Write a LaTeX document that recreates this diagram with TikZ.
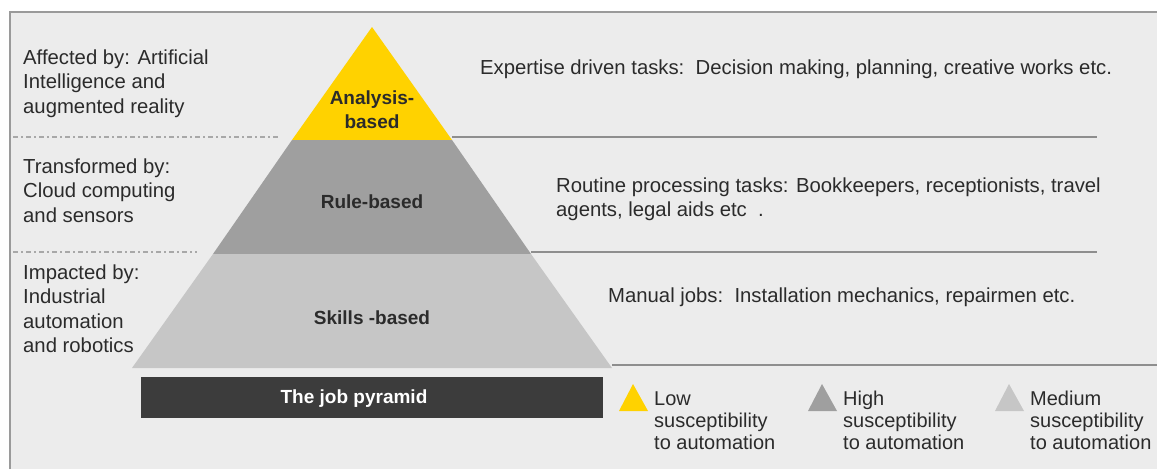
\documentclass[tikz,border=0pt]{standalone}
\usepackage{fontspec}
\setmainfont{Liberation Sans}
\definecolor{bgc}{HTML}{ECECEC}
\definecolor{framec}{HTML}{9A9A9A}
\definecolor{yel}{HTML}{FFD200}
\definecolor{dgr}{HTML}{9F9F9F}
\definecolor{lgr}{HTML}{C6C6C6}
\definecolor{boxc}{HTML}{3C3C3C}
\definecolor{textc}{HTML}{2B2B2B}
\definecolor{linec}{HTML}{8E8E8E}
\definecolor{dashc}{HTML}{A8A8A8}
\begin{document}
\begin{tikzpicture}[x=1pt,y=-1pt,
  txt/.style={anchor=base west, align=left, inner sep=0pt, text=textc,
    font=\fontsize{20.3}{24.5}\selectfont},
  lgd/.style={anchor=base west, align=left, inner sep=0pt, text=textc,
    font=\fontsize{20}{22}\selectfont},
  lvl/.style={anchor=base, align=center, inner sep=0pt, text=textc,
    font=\fontsize{19}{24}\selectfont\bfseries},
  sepline/.style={draw=linec, line width=1.3pt},
  dashline/.style={draw=dashc, line width=1.3pt, dash pattern=on 5pt off 3pt on 2pt off 3pt}]
\fill[white] (0,0) rectangle (1157,469);
\useasboundingbox (0,0) rectangle (1157,469);
\fill[bgc] (10,12) rectangle (1157,469);
\draw[framec, line width=2pt] (10,469) -- (10,12) -- (1157,12);
% pyramid
\fill[yel] (372,27) -- (292,140) -- (452,140) -- cycle;
\fill[dgr] (292,140) -- (213,254) -- (531,254) -- (452,140) -- cycle;
\fill[lgr] (213,254) -- (132,368) -- (612,368) -- (531,254) -- cycle;
% separator lines
\draw[sepline] (452,137) -- (1097,137);
\draw[sepline] (531,252) -- (1097,252);
\draw[sepline] (612,365) -- (1157,365);
\draw[dashline] (13,137) -- (278,137);
\draw[dashline] (13,252) -- (197,252);
% left texts (anchor = baseline of last line)
\node[txt] (aff) at (23,113) {Affected by: Artificial\\Intelligence and\\augmented reality};
\node[txt] (tra) at (23,222) {Transformed by:\\Cloud computing\\and sensors};
\node[txt] (imp) at (23,352.5) {Impacted by:\\Industrial\\automation\\and robotics};
% pyramid labels
\node[lvl] (ana) at (372,128) {Analysis-\\based};
\node[lvl] (rul) at (372,208) {Rule-based};
\node[lvl] (ski) at (372,324) {Skills -based};
% right texts
\node[txt] (exp) at (480,74) {Expertise driven tasks:\ \ Decision making, planning, creative works etc.};
\node[txt] (rou) at (556,216.5) {Routine processing tasks: Bookkeepers, receptionists, travel\\agents, legal aids etc\ \ .};
\node[txt] (man) at (608,302) {Manual jobs:\ \ Installation mechanics, repairmen etc.};
% job pyramid box
\fill[boxc] (141,377) rectangle (603,418);
\node[anchor=base, inner sep=0pt, text=white, font=\fontsize{19}{22}\selectfont\bfseries] (job) at (354,403) {The job pyramid};
% legend
\fill[yel] (633,384) -- (619,411) -- (648,411) -- cycle;
\node[lgd] (low) at (654,449) {Low\\susceptibility\\to automation};
\fill[dgr] (822,384) -- (808,411) -- (837,411) -- cycle;
\node[lgd] (hig) at (843,449) {High\\susceptibility\\to automation};
\fill[lgr] (1009,384) -- (995,411) -- (1024,411) -- cycle;
\node[lgd] (med) at (1030,449) {Medium\\susceptibility\\to automation};
\end{tikzpicture}
\end{document}
